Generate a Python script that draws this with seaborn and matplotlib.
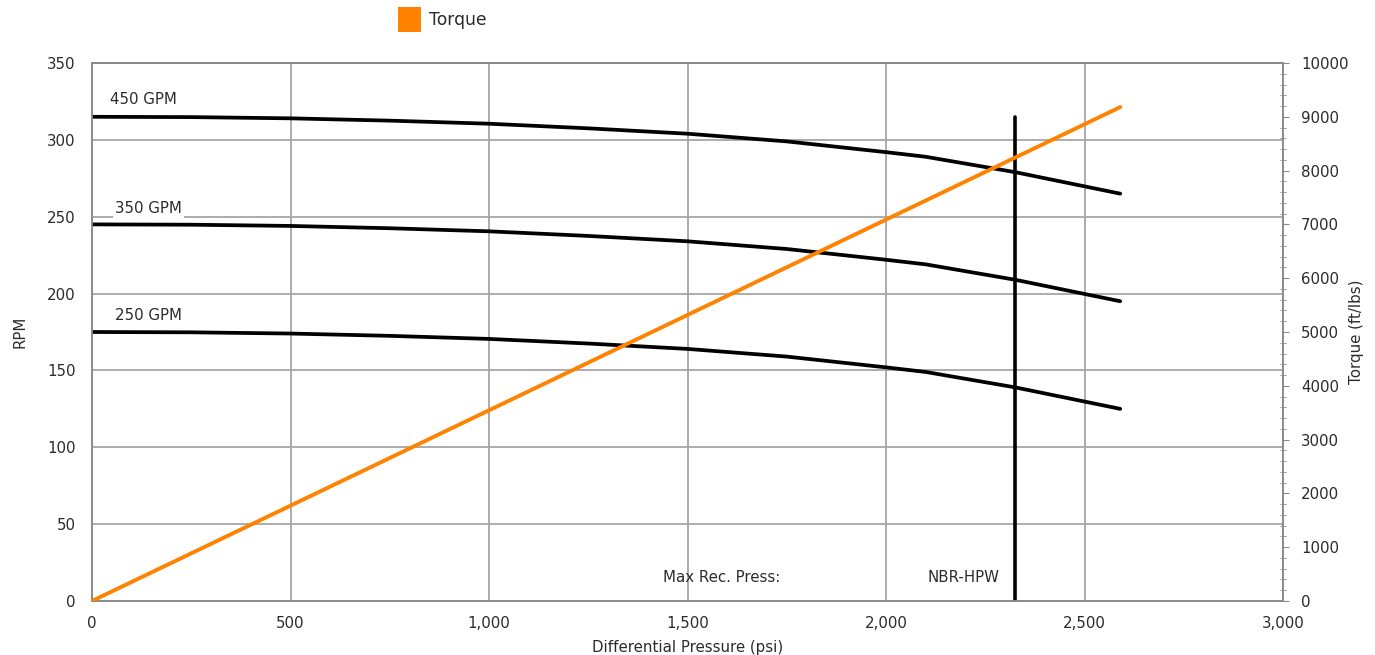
import numpy as np
import pandas as pd
import matplotlib
matplotlib.use("Agg")
import matplotlib.pyplot as plt
import seaborn as sns
from matplotlib.ticker import MultipleLocator, FuncFormatter
from matplotlib.patches import Patch

# ---------------- data ----------------
pressure = [0, 250, 500, 750, 1000, 1250, 1500, 1750, 2000, 2100, 2325, 2590]
rpm_250 = [175, 174.8, 174, 172.5, 170.5, 167.5, 164, 159, 152, 149, 139, 125]
rpm_350 = [245, 244.8, 244, 242.5, 240.5, 237.5, 234, 229, 222, 219, 209, 195]
rpm_450 = [315, 314.8, 314, 312.5, 310.5, 307.5, 304, 299, 292, 289, 279, 265]
flow_labels = ["250 GPM", "350 GPM", "450 GPM"]
torque_pressure = [0, 2590]
torque_values = [0, 9180]
max_rec_press = [2325, 2325]
max_rec_rpm = [0, 315]
x_ticks = [0, 500, 1000, 1500, 2000, 2500, 3000]
y_ticks = [0, 50, 100, 150, 200, 250, 300, 350]
y2_ticks = [0, 1000, 2000, 3000, 4000, 5000, 6000, 7000, 8000, 9000, 10000]

df = pd.DataFrame({
    "pressure": pressure * 3,
    "rpm": rpm_250 + rpm_350 + rpm_450,
    "flow": [flow_labels[0]] * len(pressure) + [flow_labels[1]] * len(pressure) + [flow_labels[2]] * len(pressure),
})
df_t = pd.DataFrame({"pressure": torque_pressure, "torque": torque_values})
df_v = pd.DataFrame({"pressure": max_rec_press, "rpm": max_rec_rpm})

# ---------------- style ----------------
sns.set_style("white")
plt.rcParams["font.family"] = ["DejaVu Sans"]
orange = "#ff8200"
grid_c = "#a6a6a6"
spine_c = "#8c8c8c"
text_c = "#2b2b2b"
fs = 10.8

fig = plt.figure(figsize=(13.75, 6.55), dpi=100)
ax = fig.add_axes([92 / 1375, 1 - 601 / 655, (1283 - 92) / 1375, (601 - 63) / 655])
ax2 = ax.twinx()

# RPM curves
sns.lineplot(data=df, x="pressure", y="rpm", units="flow", estimator=None,
             color="black", lw=2.7, ax=ax, legend=False, zorder=3)
# vertical max-pressure line
sns.lineplot(data=df_v, x="pressure", y="rpm", estimator=None, sort=False,
             color="black", lw=2.6, ax=ax, legend=False, zorder=3)
# torque
sns.lineplot(data=df_t, x="pressure", y="torque", estimator=None, color=orange, lw=2.8,
             ax=ax2, legend=False, zorder=4)

ax.set_xlim(0, 3000)
ax.set_ylim(0, 350)
ax2.set_ylim(0, 10000)
ax.set_xticks(x_ticks)
ax.set_yticks(y_ticks)
ax2.set_yticks(y2_ticks)
ax.xaxis.set_minor_locator(MultipleLocator(100))
ax2.yaxis.set_minor_locator(MultipleLocator(200))
ax.xaxis.set_major_formatter(FuncFormatter(lambda v, p: f"{int(v):,}"))
ax2.yaxis.set_major_formatter(FuncFormatter(lambda v, p: f"{int(v)}"))

ax.grid(True, which="major", color=grid_c, lw=1.3)
ax.set_axisbelow(True)
ax2.grid(False)

for a in (ax, ax2):
    for s in a.spines.values():
        s.set_color(spine_c)
        s.set_linewidth(1.3)
ax.spines["top"].set_color("#6e6e6e")

ax.tick_params(axis="y", which="major", length=0, pad=12, labelsize=fs, labelcolor=text_c)
ax.tick_params(axis="x", which="major", length=5, color=spine_c, pad=6, labelsize=fs, labelcolor=text_c)
ax.tick_params(axis="x", which="minor", length=4, color=spine_c, direction="out")
ax2.tick_params(axis="y", which="major", length=4, color=spine_c, direction="out", pad=9,
                labelsize=fs, labelcolor=text_c)
ax2.tick_params(axis="y", which="minor", length=4, color=spine_c, direction="inout")

ax.set_xlabel("Differential Pressure (psi)", fontsize=fs, color=text_c, labelpad=6)
ax.set_ylabel("RPM", fontsize=fs, color=text_c, labelpad=14)
ax2.set_ylabel("Torque (ft/lbs)", fontsize=fs, color=text_c, labelpad=0)

# annotations
ax.text(45, 326, "450 GPM", fontsize=fs, color=text_c, va="center", ha="left", zorder=5)
ax.text(58, 255.5, "350 GPM", fontsize=fs, color=text_c, va="center", ha="left", zorder=5,
        bbox=dict(facecolor="white", edgecolor="none", pad=1.5))
ax.text(58, 185.5, "250 GPM", fontsize=fs, color=text_c, va="center", ha="left", zorder=5)
ax.text(1438, 15, "Max Rec. Press:", fontsize=fs, color=text_c, va="center", ha="left", zorder=5)
ax.text(2287, 15, "NBR-HPW", fontsize=fs, color=text_c, va="center", ha="right", zorder=5)

fig.legend(handles=[Patch(facecolor=orange, edgecolor="none")], labels=["Torque"],
           loc="upper left", bbox_to_anchor=(383 / 1375, 1 + 8 / 655), frameon=False,
           handlelength=1.35, handleheight=1.8, handletextpad=0.45, fontsize=12.3,
           labelcolor=text_c)

fig.savefig("out.png", dpi=100)
